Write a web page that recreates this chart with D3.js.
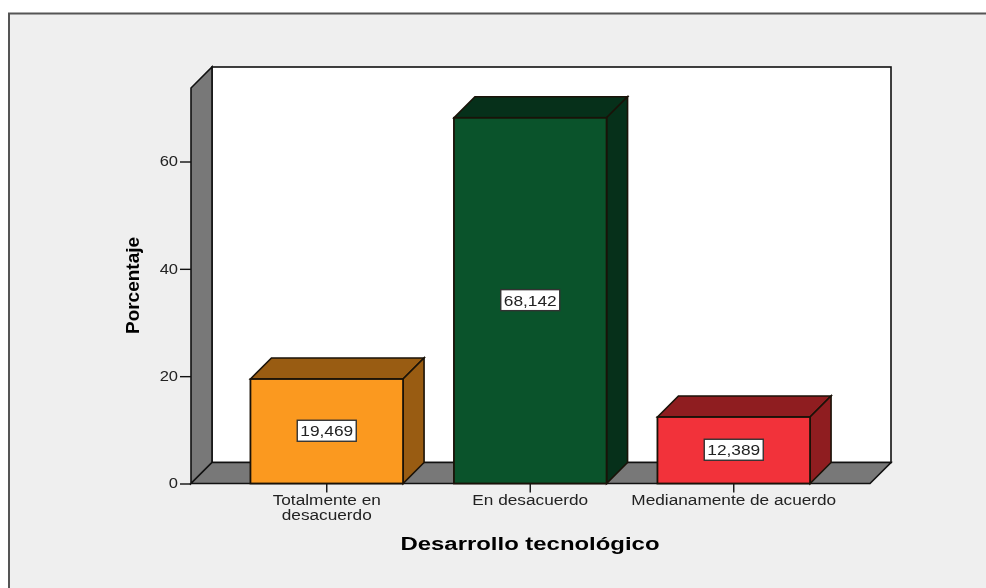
<!DOCTYPE html>
<html>
<head>
<meta charset="utf-8">
<script src="https://cdn.jsdelivr.net/npm/d3@7"></script>
<style>
    html, body { margin: 0; padding: 0; background: #fff; overflow: hidden; }
    svg { display: block; filter: blur(0.45px); }
    text { font-family: "Liberation Sans", Arial, sans-serif; fill: #222; }
</style>
</head>
<body>
<svg id="mySvg" width="986" height="588"></svg>
<script>
var categories = ["Totalmente en desacuerdo", "En desacuerdo", "Medianamente de acuerdo"];
var tickLines = [["Totalmente en", "desacuerdo"], ["En desacuerdo"], ["Medianamente de acuerdo"]];
var values = [19.469, 68.142, 12.389];
var labels = ["19,469", "68,142", "12,389"];
var frontColors = ["#fb991f", "#0a532b", "#f2323a"];
var sideColors = ["#995c12", "#06301a", "#8f1d20"];
var yTicks = [0, 20, 40, 60];

var svgWidth = 986;
var svgHeight = 588;
var depth = 21;   // 3d offset of the back wall
var left = 191, right = 870, floorY = 483.5, topY = 88;

var svg = d3.select("#mySvg");

var yScale = d3.scaleLinear()
    .domain([0, 60])
    .range([floorY, 161.5]);

var xScale = d3.scaleBand()
    .domain(categories)
    .range([225, 835.5])
    .paddingInner(0.25)
    .paddingOuter(0.125);

function pts(list) {
    return list.map(function(p) { return p.join(","); }).join(" ");
}

// grey page frame
svg.append("rect")
    .attr("x", 9)
    .attr("y", 13.5)
    .attr("width", svgWidth)
    .attr("height", svgHeight)
    .attr("fill", "#efefef")
    .attr("stroke", "#555")
    .attr("stroke-width", 2);

// back wall
svg.append("rect")
    .attr("x", left + depth)
    .attr("y", topY - depth)
    .attr("width", right - left)
    .attr("height", floorY - topY)
    .attr("fill", "#fff")
    .attr("stroke", "#111")
    .attr("stroke-width", 1.6);

// left wall
svg.append("polygon")
    .attr("points", pts([[left, floorY], [left + depth, floorY - depth], [left + depth, topY - depth], [left, topY]]))
    .attr("fill", "#787878")
    .attr("stroke", "#111")
    .attr("stroke-width", 1.6);

// floor
svg.append("polygon")
    .attr("points", pts([[left, floorY], [left + depth, floorY - depth], [right + depth, floorY - depth], [right, floorY]]))
    .attr("fill", "#787878")
    .attr("stroke", "#111")
    .attr("stroke-width", 1.6);

// axes
var y_axis = d3.axisLeft(yScale)
    .tickValues(yTicks)
    .tickSize(11)
    .tickPadding(1);

var yG = svg.append("g")
    .attr("transform", "translate(" + left + ",0)")
    .call(y_axis);
yG.select(".domain").remove();
yG.selectAll("line").attr("stroke", "#111").attr("stroke-width", 1.4);
yG.selectAll("text")
    .attr("font-size", 14)
    .attr("font-family", "Liberation Sans")
    .attr("transform", "scale(1.18,1)")
    .attr("x", -11);

var x_axis = d3.axisBottom(xScale)
    .tickSize(9)
    .tickPadding(3);

var xG = svg.append("g")
    .attr("transform", "translate(0," + floorY + ")")
    .call(x_axis);
xG.select(".domain").remove();
xG.selectAll("line").attr("stroke", "#111").attr("stroke-width", 1.4);
xG.selectAll("text")
    .attr("font-size", 14)
    .attr("font-family", "Liberation Sans")
    .each(function(d, i) {
        var text = d3.select(this);
        text.text(null);
        tickLines[i].forEach(function(line, n) {
            var tspan = text.append("tspan")
                .attr("x", 0)
                .attr("y", 12 + n * 14.5)
                .attr("dy", "0.71em")
                .text(line);
            // reference type is stretched sideways
            tspan.attr("textLength", tspan.node().getComputedTextLength() * 1.23)
                .attr("lengthAdjust", "spacingAndGlyphs");
        });
    });

// bars
var bars = svg.selectAll(".bar")
    .data(categories)
    .enter()
    .append("g")
    .attr("class", "bar");

bars.append("polygon")
    .attr("points", function(d, i) {
        var x0 = xScale(d), x1 = x0 + xScale.bandwidth(), y = yScale(values[i]);
        return pts([[x0, y], [x0 + depth, y - depth], [x1 + depth, y - depth], [x1, y]]);
    })
    .attr("fill", function(d, i) { return sideColors[i]; })
    .attr("stroke", "#1a1208")
    .attr("stroke-width", 1.6);

bars.append("polygon")
    .attr("points", function(d, i) {
        var x1 = xScale(d) + xScale.bandwidth(), y = yScale(values[i]);
        return pts([[x1, y], [x1 + depth, y - depth], [x1 + depth, floorY - depth], [x1, floorY]]);
    })
    .attr("fill", function(d, i) { return sideColors[i]; })
    .attr("stroke", "#1a1208")
    .attr("stroke-width", 1.6);

bars.append("rect")
    .attr("x", function(d) { return xScale(d); })
    .attr("y", function(d, i) { return yScale(values[i]); })
    .attr("width", xScale.bandwidth())
    .attr("height", function(d, i) { return floorY - yScale(values[i]); })
    .attr("fill", function(d, i) { return frontColors[i]; })
    .attr("stroke", "#1a1208")
    .attr("stroke-width", 1.8);

// value labels
bars.append("rect")
    .attr("x", function(d) { return xScale(d) + xScale.bandwidth() / 2 - 29.5; })
    .attr("y", function(d, i) { return (yScale(values[i]) + floorY) / 2 - 11; })
    .attr("width", 59)
    .attr("height", 21)
    .attr("fill", "#fff")
    .attr("stroke", "#333")
    .attr("stroke-width", 1.4);

bars.append("text")
    .attr("x", function(d) { return xScale(d) + xScale.bandwidth() / 2; })
    .attr("y", function(d, i) { return (yScale(values[i]) + floorY) / 2 + 5; })
    .attr("text-anchor", "middle")
    .attr("font-size", 14)
    .attr("textLength", 53)
    .attr("lengthAdjust", "spacingAndGlyphs")
    .text(function(d, i) { return labels[i]; });

// axis titles
svg.append("text")
    .attr("transform", "translate(139,285.5) rotate(-90)")
    .attr("text-anchor", "middle")
    .attr("font-size", 19)
    .attr("font-weight", "bold")
    .style("fill", "#000")
    .attr("textLength", 97)
    .attr("lengthAdjust", "spacingAndGlyphs")
    .text("Porcentaje");

svg.append("text")
    .attr("x", 530)
    .attr("y", 550)
    .attr("text-anchor", "middle")
    .attr("font-size", 18)
    .attr("font-weight", "bold")
    .style("fill", "#000")
    .attr("textLength", 259)
    .attr("lengthAdjust", "spacingAndGlyphs")
    .text("Desarrollo tecnológico");
</script>
</body>
</html>
